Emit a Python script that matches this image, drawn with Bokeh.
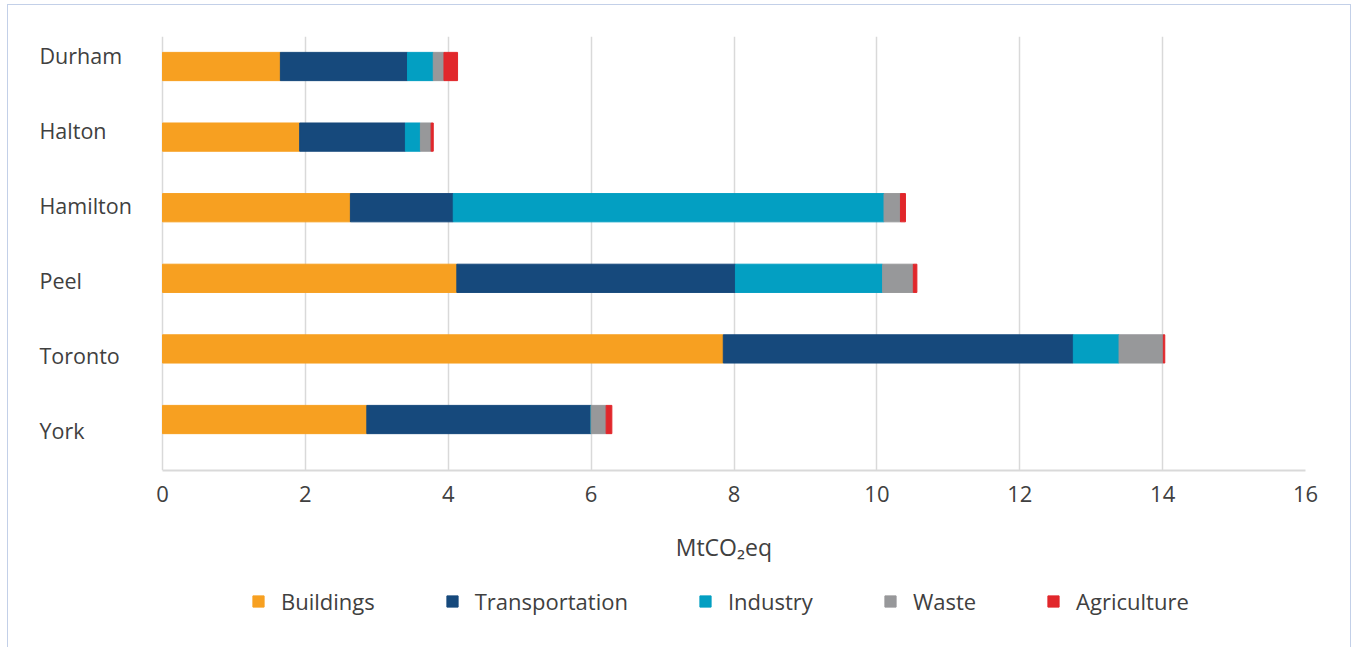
from bokeh.plotting import figure
from bokeh.layouts import column
from bokeh.models import Range1d, FixedTicker, Legend, LegendItem, ColumnDataSource
from bokeh.core.properties import value
from bokeh.embed import file_html
from bokeh.resources import INLINE

regions = ["Durham", "Halton", "Hamilton", "Peel", "Toronto", "York"]
sectors = ["Buildings", "Transportation", "Industry", "Waste", "Agriculture"]
colors = ["#F7A021", "#16497C", "#039FC2", "#97989A", "#E1272B"]
buildings = [1.65, 1.92, 2.63, 4.12, 7.85, 2.86]
transportation = [1.78, 1.48, 1.44, 3.90, 4.90, 3.14]
industry = [0.36, 0.21, 6.03, 2.06, 0.64, 0.0]
waste = [0.15, 0.15, 0.23, 0.43, 0.62, 0.21]
agriculture = [0.19, 0.03, 0.07, 0.05, 0.02, 0.08]
x_ticks = [0, 2, 4, 6, 8, 10, 12, 14, 16]
x_title = "MtCO\u2082eq"

FONT = "Open Sans"
TEXT = "#404040"
BORDER = "1px solid #c3d0e8"

n = len(regions)
ypos = [n - 1 - i for i in range(n)]
label_y = [5.156 - i * 1.0623 for i in range(n)]
source = ColumnDataSource(dict(y=ypos, Buildings=buildings, Transportation=transportation,
                               Industry=industry, Waste=waste, Agriculture=agriculture))

# main chart
p = figure(width=1342, height=515, x_range=Range1d(-1.848, 16), y_range=Range1d(-0.722, 5.425),
           output_backend="svg", toolbar_location=None,
           min_border_left=22, min_border_right=45, min_border_top=31, min_border_bottom=50)
p.outline_line_color = None
p.background_fill_color = "white"
p.border_fill_color = "white"

p.hbar_stack(sectors, y="y", height=0.4, color=colors, source=source)

p.text(x=-1.722, y=label_y, text=regions, text_align="left", text_baseline="middle",
       text_font=value(FONT), text_font_size="21.5px", text_color=TEXT)

p.yaxis.visible = False
p.ygrid.visible = False
p.xaxis.ticker = FixedTicker(ticks=x_ticks)
p.xaxis.bounds = (0, 16)
p.xgrid.grid_line_color = "#d9d9d9"
p.xgrid.grid_line_width = 1.5
p.xaxis.axis_line_color = "#d9d9d9"
p.xaxis.axis_line_width = 2
p.xaxis.major_tick_line_color = None
p.xaxis.minor_tick_line_color = None
p.xaxis.major_tick_out = 0
p.xaxis.major_label_standoff = 15
p.xaxis.major_label_text_font = FONT
p.xaxis.major_label_text_font_size = "22px"
p.xaxis.major_label_text_color = TEXT

# axis title + legend strip (same x scale as the chart; its bars lie outside its view)
pl = figure(width=1342, height=127, x_range=Range1d(-2.1557, 16.63), y_range=Range1d(100, 227),
            output_backend="svg", toolbar_location=None, x_axis_type=None, y_axis_type=None,
            min_border=0)
pl.outline_line_color = None
pl.grid.visible = False
pl.text(x=[8.06], y=[201], text=[x_title], text_align="center", text_baseline="middle",
        text_font=value(FONT), text_font_size="23px", text_color=TEXT)
rl = pl.hbar_stack(sectors, y="y", height=0.4, color=colors, source=source)
items = [LegendItem(label=s, renderers=[r]) for s, r in zip(sectors, rl)]
legend = Legend(items=items, orientation="horizontal", location=(221, 31), spacing=70,
                glyph_width=14, glyph_height=14, label_standoff=16,
                label_text_font=FONT, label_text_font_size="22px", label_text_color=TEXT,
                border_line_color=None, background_fill_alpha=0, margin=0, padding=6)
pl.add_layout(legend, "center")

layout = column(p, pl, spacing=0)
layout.styles = {"margin-left": "7px", "margin-top": "4px", "border-left": BORDER,
                 "border-top": BORDER, "border-right": BORDER}
open("out.html", "w").write(file_html(layout, INLINE))
